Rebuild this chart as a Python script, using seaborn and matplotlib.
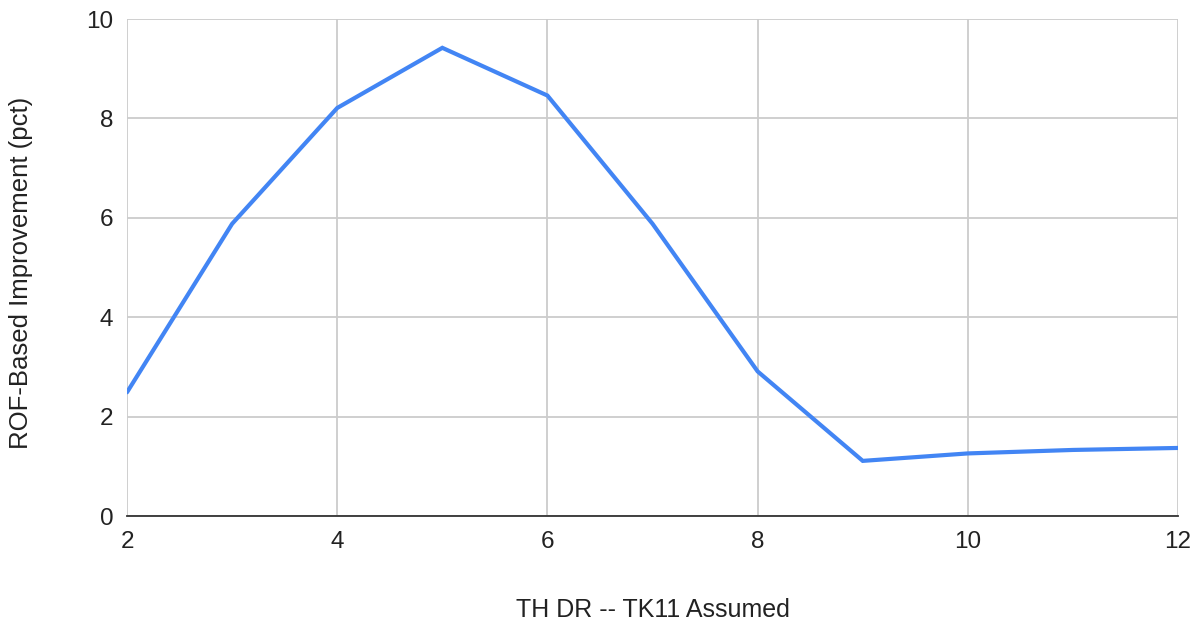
import matplotlib
matplotlib.use("Agg")
import matplotlib.pyplot as plt
import seaborn as sns
import pandas as pd

# TH DR values and the ROF-based improvement for each
th_dr = [2, 3, 4, 5, 6, 7, 8, 9, 10, 11, 12]
improvement = [2.49, 5.88, 8.21, 9.42, 8.46, 5.88, 2.91, 1.11, 1.26, 1.33, 1.37]

x_ticks = [2, 4, 6, 8, 10, 12]
y_ticks = [0, 2, 4, 6, 8, 10]

sns.set_theme(style="white")
plt.rcParams["font.family"] = ["Liberation Sans", "DejaVu Sans"]

df = pd.DataFrame({"th_dr": th_dr, "improvement": improvement})

fig = plt.figure(figsize=(11.96, 6.21), dpi=100)
ax = fig.add_axes([0.1062, 0.169, 0.8788, 0.8004])

sns.lineplot(data=df, x="th_dr", y="improvement", ax=ax,
             color="#4285F4", linewidth=3, solid_joinstyle="miter")

ax.set_xlim(2, 12)
ax.set_ylim(0, 10)
ax.set_xticks(x_ticks)
ax.set_yticks(y_ticks)
ax.grid(True, color="#cccccc", linewidth=1.3)
ax.set_axisbelow(True)

for side in ["top", "right", "left"]:
    ax.spines[side].set_visible(False)
ax.spines["bottom"].set_color("#333333")
ax.spines["bottom"].set_linewidth(1.3)

ax.tick_params(axis="both", length=0, labelsize=17.5, colors="#222222")
ax.tick_params(axis="x", pad=11)
ax.tick_params(axis="y", pad=10)

ax.set_xlabel("TH DR -- TK11 Assumed", fontsize=18, color="#222222", labelpad=32)
ax.set_ylabel("ROF-Based Improvement (pct)", fontsize=18.5, color="#222222", labelpad=37)
ax.yaxis.set_label_coords(-0.0895, 0.49)

fig.savefig("out.png", dpi=100)
